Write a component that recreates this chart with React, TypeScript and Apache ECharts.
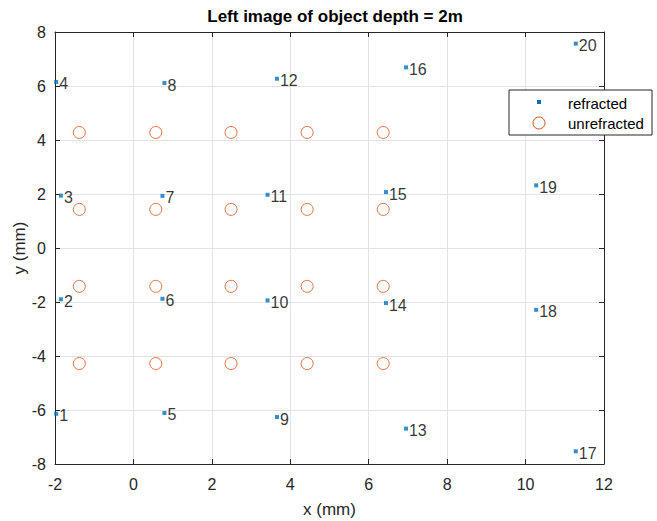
import React, { useEffect, useRef } from "react";
import * as echarts from "echarts";

const pointLabels = ["1","2","3","4","5","6","7","8","9","10","11","12","13","14","15","16","17","18","19","20"];
const refractedX = [-1.97, -1.85, -1.85, -1.97, 0.79, 0.74, 0.74, 0.79, 3.66, 3.42, 3.42, 3.66, 6.95, 6.44, 6.44, 6.95, 11.28, 10.27, 10.27, 11.28];
const refractedY = [-6.14, -1.9, 1.94, 6.15, -6.11, -1.88, 1.93, 6.11, -6.26, -1.94, 1.97, 6.27, -6.69, -2.04, 2.07, 6.69, -7.53, -2.29, 2.32, 7.57];
const unrefractedX = [-1.38, 0.57, 2.49, 4.43, 6.37];
const unrefractedY = [-4.28, -1.42, 1.43, 4.28];

const xTicks = { min: -2, max: 12, interval: 2 };
const yTicks = { min: -8, max: 8, interval: 2 };

const FONT = "Liberation Sans, Arial, Helvetica, sans-serif";
const AX = "#262626";

export default function App() {
  const ref = useRef<HTMLDivElement>(null);
  useEffect(() => {
    if (!ref.current) return;
    const chart = echarts.init(ref.current, null, { renderer: "svg" });
    const refr = refractedX.map((x, i) => ({ value: [x, refractedY[i]], label: pointLabels[i] }));
    const unref: number[][] = [];
    unrefractedY.forEach((y) => unrefractedX.forEach((x) => unref.push([x, y])));
    const tickAxisCommon = {
      axisLine: { show: true, onZero: false, lineStyle: { color: AX, width: 1 } },
      axisTick: { show: true, inside: true, length: 5, lineStyle: { color: AX } },
    };
    chart.setOption({
      animation: false,
      backgroundColor: "#ffffff",
      textStyle: { fontFamily: FONT },
      title: {
        text: "Left image of object depth = 2m",
        left: 330,
        textAlign: "center",
        top: 3,
        textStyle: { fontFamily: FONT, fontSize: 17, fontWeight: "bold", color: "#000" },
      },
      grid: { left: 55, right: 53, top: 32, bottom: 57, show: false, containLabel: false, outerBoundsMode: "none" },
      xAxis: [
        {
          type: "value",
          ...xTicks,
          position: "bottom",
          name: "x (mm)",
          nameLocation: "middle",
          nameGap: 37,
          nameMoveOverlap: false,
          nameTextStyle: { fontFamily: FONT, fontSize: 17, color: AX },
          ...tickAxisCommon,
          axisLabel: { fontFamily: FONT, fontSize: 16, color: AX, margin: 12 },
          splitLine: { show: true, lineStyle: { color: "#e3e3e3", width: 1 } },
        },
        {
          type: "value",
          ...xTicks,
          position: "top",
          ...tickAxisCommon,
          axisLabel: { show: false },
          splitLine: { show: false },
        },
      ],
      yAxis: [
        {
          type: "value",
          ...yTicks,
          position: "left",
          name: "y (mm)",
          nameLocation: "middle",
          nameGap: 27,
          nameMoveOverlap: false,
          nameTextStyle: { fontFamily: FONT, fontSize: 17, color: AX },
          ...tickAxisCommon,
          axisLabel: { fontFamily: FONT, fontSize: 16, color: AX, margin: 9 },
          splitLine: { show: true, lineStyle: { color: "#e3e3e3", width: 1 } },
        },
        {
          type: "value",
          ...yTicks,
          position: "right",
          ...tickAxisCommon,
          axisLabel: { show: false },
          splitLine: { show: false },
        },
      ],
      series: [
        {
          name: "unrefracted",
          type: "scatter",
          symbol: "circle",
          symbolSize: 12,
          itemStyle: { color: "rgba(0,0,0,0)", borderColor: "#D95319", borderWidth: 1 },
          data: unref,
          z: 2,
        },
        {
          name: "refracted",
          type: "scatter",
          symbol: "rect",
          symbolSize: 4,
          itemStyle: { color: "#0072BD" },
          data: refr,
          label: {
            show: true,
            position: "right",
            distance: 1,
            offset: [0, 2],
            formatter: (p: any) => p.data.label,
            fontFamily: FONT,
            fontSize: 16,
            color: "#000",
          },
          z: 3,
        },
      ],
      graphic: [
        {
          type: "rect",
          shape: { x: 509, y: 90, width: 143, height: 45 },
          style: { fill: "#fff", stroke: AX, lineWidth: 1 },
          z: 100,
        },
        {
          type: "rect",
          shape: { x: 537, y: 100, width: 4, height: 4 },
          style: { fill: "#0072BD" },
          z: 101,
        },
        {
          type: "circle",
          shape: { cx: 539, cy: 123, r: 6 },
          style: { fill: "none", stroke: "#D95319", lineWidth: 1 },
          z: 101,
        },
        {
          type: "text",
          x: 568,
          y: 103,
          style: { text: "refracted", font: `15px ${FONT}`, fill: "#000", verticalAlign: "middle" },
          z: 101,
        },
        {
          type: "text",
          x: 568,
          y: 123,
          style: { text: "unrefracted", font: `15px ${FONT}`, fill: "#000", verticalAlign: "middle" },
          z: 101,
        },
      ],
    });
    return () => chart.dispose();
  }, []);
  return <div ref={ref} style={{ position: "absolute", left: 0, top: 0, width: 657, height: 521 }} />;
}
